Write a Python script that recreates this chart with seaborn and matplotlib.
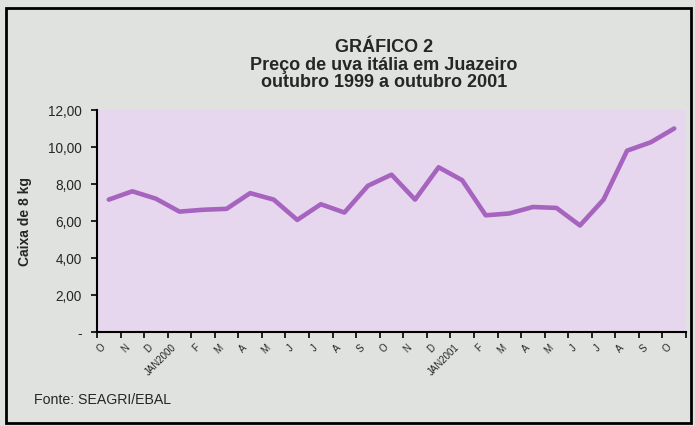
import numpy as np
import pandas as pd
import matplotlib
matplotlib.use("Agg")
import matplotlib.pyplot as plt
import matplotlib.transforms as mtransforms
from matplotlib.patches import Rectangle
import seaborn as sns

# monthly price, out/1999 .. out/2001 (R$ per 8 kg box)
months = ["O", "N", "D", "JAN2000", "F", "M", "A", "M", "J", "J", "A", "S",
          "O", "N", "D", "JAN2001", "F", "M", "A", "M", "J", "J", "A", "S", "O"]
prices = [7.15, 7.6, 7.2, 6.5, 6.6, 6.65, 7.5, 7.15, 6.05, 6.9, 6.45, 7.9,
          8.5, 7.15, 8.9, 8.2, 6.3, 6.4, 6.75, 6.7, 5.75, 7.15, 9.8, 10.25, 11.0]
yticks = [0, 2, 4, 6, 8, 10, 12]
ytick_labels = ["-", "2,00", "4,00", "6,00", "8,00", "10,00", "12,00"]

sns.set_style("ticks")
plt.rcParams["font.family"] = ["Liberation Sans", "DejaVu Sans"]

df = pd.DataFrame({"pos": np.arange(len(months)), "preco": prices})

bg = "#dfe2de"
fig = plt.figure(figsize=(6.95, 4.27), dpi=100, facecolor=bg)
ax = fig.add_axes([97 / 695, (427 - 332.7) / 427, 589 / 695, 221.7 / 427])
ax.set_facecolor("#e6d7ee")

sns.lineplot(data=df, x="pos", y="preco", ax=ax, color="#a764bf", linewidth=3.3)

ax.set_xlim(-0.5, len(months) - 0.5)
ax.set_ylim(0, 12)
ax.set_yticks(yticks)
ax.set_yticklabels(ytick_labels, fontsize=9.8)

# ticks at category boundaries, labels in between
ax.set_xticks(np.arange(-0.5, len(months)))
ax.set_xticklabels([])
ax.set_xticks(np.arange(len(months)), minor=True)
ax.set_xticklabels(months, minor=True, rotation=45, ha="right", va="top",
                   rotation_mode="anchor", fontsize=7)
ax.tick_params(axis="x", which="minor", length=0, pad=7)
ax.tick_params(axis="both", which="major", length=4, width=1.2, color="black",
               direction="out")
ax.tick_params(axis="y", which="major", pad=7)
shift = mtransforms.ScaledTranslation(-6 / 72, 0, fig.dpi_scale_trans)
for lab in ax.get_xticklabels(minor=True):
    lab.set_transform(lab.get_transform() + shift)

for s in ["top", "right"]:
    ax.spines[s].set_visible(False)
for s in ["left", "bottom"]:
    ax.spines[s].set_linewidth(1.5)
    ax.spines[s].set_color("black")

ax.set_xlabel("")
ax.set_ylabel("Caixa de 8 kg", fontsize=10, fontweight="bold")
ax.yaxis.set_label_coords((32 - 97) / 589, 0.5)

title_lines = ["GRÁFICO 2", "Preço de uva itália em Juazeiro",
               "outubro 1999 a outubro 2001"]
for txt, base in zip(title_lines, [52, 70.5, 87]):
    fig.text(384 / 695, 1 - base / 427, txt, ha="center", va="baseline",
             fontsize=13, fontweight="bold")
fig.text(34 / 695, 1 - 400 / 427, "Fonte: SEAGRI/EBAL", ha="left", va="center",
         fontsize=10.2)

# outer frame
fig.add_artist(Rectangle((6 / 695, 3 / 427), 685 / 695, 415 / 427,
                         transform=fig.transFigure, fill=False,
                         edgecolor="black", linewidth=2))

fig.savefig("out.png", dpi=100, facecolor=bg)
